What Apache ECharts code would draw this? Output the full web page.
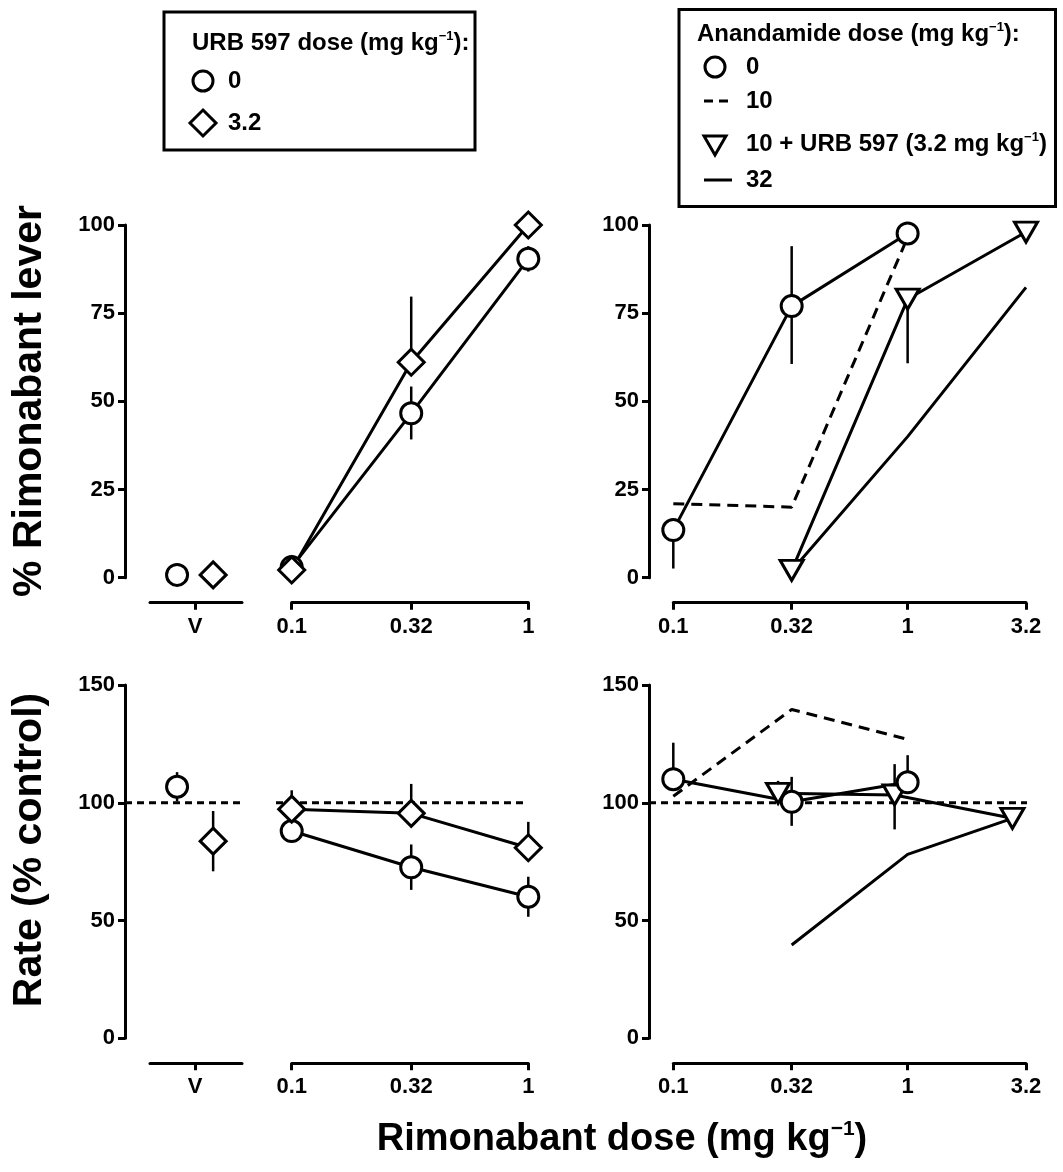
<!DOCTYPE html>
<html><head><meta charset="utf-8">
<script src="https://cdn.jsdelivr.net/npm/echarts@6/dist/echarts.min.js"></script>
<style>html,body{margin:0;padding:0;background:#fff}#c{width:1063px;height:1172px}</style>
</head><body><div id="c"></div>
<script>
// ---------------- data ----------------
const leverTicks = [0, 25, 50, 75, 100];
const rateTicks = [0, 50, 100, 150];
const doseTicksLeft = [0.1, 0.32, 1];
const doseTicksRight = [0.1, 0.32, 1, 3.2];
const doseTickLabels = ['0.1', '0.32', '1', '3.2'];
const vehicleLabel = 'V';
const vehicleGroups = [0, 1];          // URB 597 0 (circle), 3.2 (diamond) after vehicle

// Top-left: % rimonabant lever, URB 597 pretreatment
const urbDose = [0.1, 0.32, 1];
const leverVeh = [0.8, 0.8];
const leverURB0 = [3.0, 46.6, 90.4];
const leverURB0Up = [0, 7.6, 3.6];
const leverURB0Down = [0, 7.4, 3.6];
const leverURB32 = [2.2, 61.1, 100];
const leverURB32Up = [0, 18.6, 0];
const leverURB32Down = [0, 0, 0];

// Top-right: % rimonabant lever, anandamide pretreatment
const aeaDose0 = [0.1, 0.32, 1];
const leverAEA0 = [13.5, 77.0, 97.6];
const leverAEA0Up = [0, 17, 0];
const leverAEA0Down = [10.9, 16.4, 0];
const aeaDose10 = [0.1, 0.32, 1];
const leverAEA10 = [21, 20, 96.5];
const aeaDose10URB = [0.32, 1, 3.2];
const leverAEA10URB = [2.1, 79, 98];
const leverAEA10URBUp = [0, 0, 0];
const leverAEA10URBDown = [0, 18.2, 0];
const aeaDose32 = [0.32, 1, 3.2];
const leverAEA32 = [2, 40, 82.3];

// Bottom-left: rate (% control), URB 597 pretreatment
const rateVeh = [106.8, 83.7];
const rateVehUp = [6.2, 12.8];
const rateVehDown = [6.2, 12.8];
const rateURB0 = [88, 72.6, 60.1];
const rateURB0Up = [0, 9.7, 8.5];
const rateURB0Down = [0, 9.6, 8.5];
const rateURB32 = [97.3, 95.5, 80.9];
const rateURB32Up = [8, 12.5, 11];
const rateURB32Down = [0, 0, 0];

// Bottom-right: rate (% control), anandamide pretreatment
const rateAEA0 = [110, 100.4, 108.7];
const rateAEA0Up = [15.5, 10.6, 11.5];
const rateAEA0Down = [0, 10.2, 0];
const rateAEA10 = [102.8, 139.6, 126.9];
const rateDose10URB = [0.28, 0.88, 2.8];
const rateAEA10URB = [104, 103.3, 93.4];
const rateAEA10URBUp = [5.3, 13.1, 0];
const rateAEA10URBDown = [0, 14.6, 0];
const rateDose32 = [0.32, 1, 2.8];
const rateAEA32 = [39.6, 78.1, 93.4];
const controlLevel = [100, 100];

// ---------------- helpers ----------------
const FONT = '"Liberation Sans", Arial, Helvetica, sans-serif';
const BLACK = '#000';
function pairs(xs, ys) { return xs.map((x, i) => [x, ys[i]]); }
function errs(xs, ys, up, dn) { return xs.map((x, i) => [x, ys[i], up[i], dn[i]]).filter(d => d[2] > 0 || d[3] > 0); }
function doseLabel(v) {
  let best = 0, bd = Infinity;
  doseTicksRight.forEach((t, i) => { const d = Math.abs(Math.log10(v) - Math.log10(t)); if (d < bd) { bd = d; best = i; } });
  return doseTickLabels[best];
}
function renderErr(params, api) {
  const x = api.value(0), y = api.value(1), up = api.value(2), dn = api.value(3);
  const a = api.coord([x, y + up]);
  const b = api.coord([x, y - dn]);
  return { type: 'line', shape: { x1: a[0], y1: a[1], x2: b[0], y2: b[1] }, style: { stroke: BLACK, lineWidth: 2.5 } };
}
const axisLineStyle = { color: BLACK, width: 3 };
function yAx(grid, ticks, show, offset) {
  return {
    type: 'value', gridIndex: grid, min: ticks[0], max: ticks[ticks.length - 1],
    interval: ticks[1] - ticks[0], show: show, offset: offset || 0, position: 'left',
    axisLine: { show: true, onZero: false, lineStyle: axisLineStyle },
    axisTick: { show: true, length: 7, lineStyle: { color: BLACK, width: 3 } },
    axisLabel: { color: BLACK, fontFamily: FONT, fontWeight: 'bold', fontSize: 22, margin: 10 },
    splitLine: { show: false }
  };
}
function xLabelStyle(extra) {
  return Object.assign({ color: BLACK, fontFamily: FONT, fontWeight: 'bold', fontSize: 22, margin: 13 }, extra);
}
function xLog(grid, ticks) {
  return {
    type: 'log', logBase: 10, gridIndex: grid, min: ticks[0], max: ticks[ticks.length - 1],
    position: 'bottom', offset: 25,
    axisLine: { onZero: false, lineStyle: axisLineStyle },
    axisTick: { customValues: ticks, length: 7, lineStyle: { color: BLACK, width: 3 } },
    axisLabel: xLabelStyle({ customValues: ticks, formatter: v => doseLabel(v) }),
    splitLine: { show: false }, minorTick: { show: false }
  };
}
function xVeh(grid) {
  return {
    type: 'value', gridIndex: grid, min: -0.75, max: 1.8, position: 'bottom', offset: 25,
    axisLine: { onZero: false, lineStyle: axisLineStyle },
    axisTick: { customValues: [0.5], length: 7, lineStyle: { color: BLACK, width: 3 } },
    axisLabel: xLabelStyle({ customValues: [0.5], formatter: () => vehicleLabel }),
    splitLine: { show: false }
  };
}
function xHidden(grid) { return { type: 'value', gridIndex: grid, min: 0, max: 1, show: false }; }

const circleSym = { symbol: 'circle', symbolSize: 21 };
const diamondSym = { symbol: 'diamond', symbolSize: 26 };
const triSym = { symbol: 'triangle', symbolSize: [23, 20], symbolRotate: 180 };
const markerStyle = { color: '#fff', borderColor: BLACK, borderWidth: 3, opacity: 1 };

function errSeries(xi, data) {
  return { type: 'custom', xAxisIndex: xi, yAxisIndex: xi, renderItem: renderErr, data: data, encode: { x: 0, y: 1 }, z: 1, silent: true };
}
function lineSeries(xi, data, dash, width) {
  return { type: 'line', xAxisIndex: xi, yAxisIndex: xi, data: data, symbol: 'none', z: 3,
    lineStyle: { color: BLACK, width: width || 3, type: dash || 'solid', opacity: 1 } };
}
function symSeries(xi, data, sym) {
  return Object.assign({ type: 'scatter', xAxisIndex: xi, yAxisIndex: xi, data: data, z: 5, itemStyle: markerStyle,
    emphasis: { disabled: true } }, sym);
}

// grid layout
const grids = [
  { left: 150, top: 225, width: 92, height: 352.7 },     // 0 TL vehicle
  { left: 291.7, top: 225, width: 236.6, height: 352.7 }, // 1 TL doses
  { left: 673.3, top: 225, width: 352.7, height: 352.7 }, // 2 TR
  { left: 150, top: 685, width: 92, height: 353.3 },      // 3 BL vehicle
  { left: 291.7, top: 685, width: 236.6, height: 353.3 }, // 4 BL doses
  { left: 673.3, top: 685, width: 352.7, height: 353.3 }, // 5 BR
  { left: 125, top: 685, width: 118, height: 353.3 },     // 6 control line (vehicle)
  { left: 276, top: 685, width: 251, height: 353.3 },     // 7 control line (doses)
  { left: 649, top: 685, width: 378, height: 353.3 }      // 8 control line (right)
];

const xAxes = [
  xVeh(0), xLog(1, doseTicksLeft), xLog(2, doseTicksRight),
  xVeh(3), xLog(4, doseTicksLeft), xLog(5, doseTicksRight),
  xHidden(6), xHidden(7), xHidden(8)
];
const yAxes = [
  yAx(0, leverTicks, true, 25), yAx(1, leverTicks, false), yAx(2, leverTicks, true, 24.3),
  yAx(3, rateTicks, true, 25), yAx(4, rateTicks, false), yAx(5, rateTicks, true, 24.3),
  yAx(6, rateTicks, false), yAx(7, rateTicks, false), yAx(8, rateTicks, false)
];

const ctrlLine = (xi) => ({ type: 'line', xAxisIndex: xi, yAxisIndex: xi, data: pairs([0, 1], controlLevel),
  symbol: 'none', z: 0, lineStyle: { color: BLACK, width: 3, type: [7, 5] } });

const series = [
  // top-left
  symSeries(0, [[vehicleGroups[0], leverVeh[0]]], circleSym),
  symSeries(0, [[vehicleGroups[1], leverVeh[1]]], diamondSym),
  errSeries(1, errs(urbDose, leverURB0, leverURB0Up, leverURB0Down)),
  errSeries(1, errs(urbDose, leverURB32, leverURB32Up, leverURB32Down)),
  lineSeries(1, pairs(urbDose, leverURB0)),
  lineSeries(1, pairs(urbDose, leverURB32)),
  symSeries(1, pairs(urbDose, leverURB0), circleSym),
  symSeries(1, pairs(urbDose, leverURB32), diamondSym),
  // top-right
  errSeries(2, errs(aeaDose0, leverAEA0, leverAEA0Up, leverAEA0Down)),
  errSeries(2, errs(aeaDose10URB, leverAEA10URB, leverAEA10URBUp, leverAEA10URBDown)),
  lineSeries(2, pairs(aeaDose10, leverAEA10), [11, 7]),
  lineSeries(2, pairs(aeaDose32, leverAEA32)),
  lineSeries(2, pairs(aeaDose10URB, leverAEA10URB)),
  lineSeries(2, pairs(aeaDose0, leverAEA0)),
  symSeries(2, pairs(aeaDose10URB, leverAEA10URB), triSym),
  symSeries(2, pairs(aeaDose0, leverAEA0), circleSym),
  // bottom-left
  ctrlLine(6), ctrlLine(7), ctrlLine(8),
  errSeries(3, errs(vehicleGroups, rateVeh, rateVehUp, rateVehDown)),
  symSeries(3, [[vehicleGroups[0], rateVeh[0]]], circleSym),
  symSeries(3, [[vehicleGroups[1], rateVeh[1]]], diamondSym),
  errSeries(4, errs(urbDose, rateURB0, rateURB0Up, rateURB0Down)),
  errSeries(4, errs(urbDose, rateURB32, rateURB32Up, rateURB32Down)),
  lineSeries(4, pairs(urbDose, rateURB0)),
  lineSeries(4, pairs(urbDose, rateURB32)),
  symSeries(4, pairs(urbDose, rateURB0), circleSym),
  symSeries(4, pairs(urbDose, rateURB32), diamondSym),
  // bottom-right
  errSeries(5, errs(aeaDose0, rateAEA0, rateAEA0Up, rateAEA0Down)),
  errSeries(5, errs(rateDose10URB, rateAEA10URB, rateAEA10URBUp, rateAEA10URBDown)),
  lineSeries(5, pairs(aeaDose10, rateAEA10), [11, 7]),
  lineSeries(5, pairs(rateDose32, rateAEA32)),
  lineSeries(5, pairs(rateDose10URB, rateAEA10URB)),
  lineSeries(5, pairs(aeaDose0, rateAEA0)),
  symSeries(5, pairs(rateDose10URB, rateAEA10URB), triSym),
  symSeries(5, pairs(aeaDose0, rateAEA0), circleSym)
];

// ---------------- legends & titles (graphic) ----------------
const LF = 24;
function legText(x, y, text) {
  return { type: 'text', x: x, y: y, z: 10, style: { text: text, fill: BLACK, fontFamily: FONT, fontWeight: 'bold', fontSize: LF, align: 'left', verticalAlign: 'middle' } };
}
function supText(x, y, pre, post, size, align) {
  return { type: 'text', x: x, y: y, z: 10, style: {
    text: '{a|' + pre + '}{s|\u22121}{a|' + post + '}', align: align || 'left', verticalAlign: 'middle',
    rich: {
      a: { fontFamily: FONT, fontWeight: 'bold', fontSize: size, fill: BLACK, lineHeight: size * 1.1 },
      s: { fontFamily: FONT, fontWeight: 'bold', fontSize: Math.round(size * 0.55), fill: BLACK, verticalAlign: 'top', lineHeight: size * 0.55 }
    } } };
}
const symStroke = { fill: '#fff', stroke: BLACK, lineWidth: 3 };
const graphic = [
  { type: 'rect', shape: { x: 164, y: 12, width: 311, height: 138 }, style: { fill: 'none', stroke: BLACK, lineWidth: 3 } },
  supText(192, 43, 'URB 597 dose (mg kg', '):', LF),
  { type: 'circle', shape: { cx: 203, cy: 81, r: 10 }, style: symStroke },
  legText(228, 81, '0'),
  { type: 'polygon', shape: { points: [[203, 110], [216, 123], [203, 136], [190, 123]] }, style: symStroke },
  legText(228, 123, '3.2'),

  { type: 'rect', shape: { x: 679, y: 9.5, width: 376.5, height: 197 }, style: { fill: 'none', stroke: BLACK, lineWidth: 3 } },
  supText(697, 34, 'Anandamide dose (mg kg', '):', LF),
  { type: 'circle', shape: { cx: 715, cy: 67, r: 10 }, style: symStroke },
  legText(746, 67, '0'),
  { type: 'line', shape: { x1: 704, y1: 101, x2: 732, y2: 101 }, style: { stroke: BLACK, lineWidth: 3, lineDash: [9, 6] } },
  legText(746, 101, '10'),
  { type: 'polygon', shape: { points: [[704, 136], [726, 136], [715, 155]] }, style: symStroke },
  supText(746, 144, '10 + URB 597 (3.2 mg kg', ')', LF),
  { type: 'line', shape: { x1: 704, y1: 180, x2: 732, y2: 180 }, style: { stroke: BLACK, lineWidth: 3 } },
  legText(746, 180, '32'),

  // axis titles
  { type: 'text', x: 30, y: 401, rotation: Math.PI / 2, z: 10,
    style: { text: '% Rimonabant lever', fill: BLACK, fontFamily: FONT, fontWeight: 'bold', fontSize: 41, align: 'center', verticalAlign: 'middle' } },
  { type: 'text', x: 30, y: 850, rotation: Math.PI / 2, z: 10,
    style: { text: 'Rate (% control)', fill: BLACK, fontFamily: FONT, fontWeight: 'bold', fontSize: 41, align: 'center', verticalAlign: 'middle' } },
  supText(622, 1140, 'Rimonabant dose (mg kg', ')', 38, 'center')
];

const chart = echarts.init(document.getElementById('c'), null, { renderer: 'canvas' });
chart.setOption({
  animation: false,
  backgroundColor: '#fff',
  grid: grids,
  xAxis: xAxes,
  yAxis: yAxes,
  series: series,
  graphic: graphic
});
</script>
</body></html>
